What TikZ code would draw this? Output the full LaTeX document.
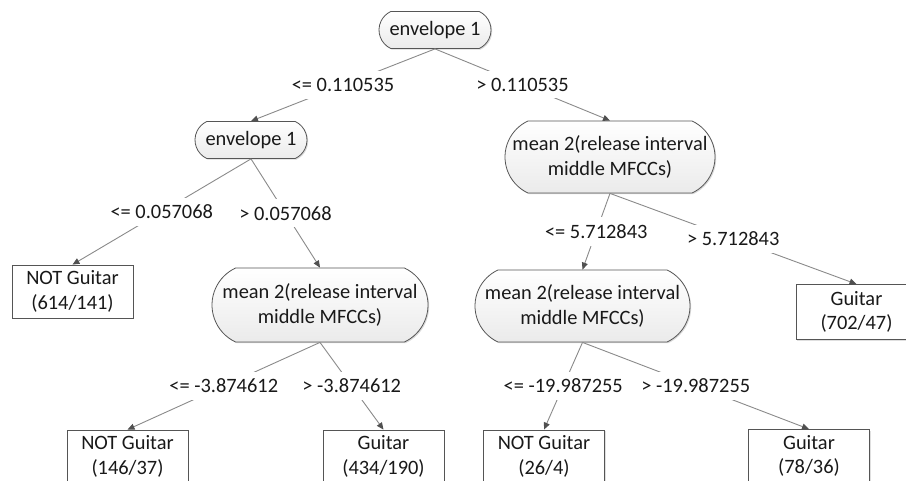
\documentclass[tikz,border=0pt]{standalone}
\usepackage{fontspec}
\setmainfont{Carlito}
\usetikzlibrary{shapes.misc,arrows.meta,shadows}

\definecolor{linegray}{HTML}{8A8A8A}
\definecolor{tipgray}{HTML}{505050}
\definecolor{bordergray}{HTML}{555555}

\begin{document}
\begin{tikzpicture}[x=1pt,y=-1pt,
  every node/.style={font=\fontsize{20.4}{24.5}\selectfont, text=black!90},
  test/.style={rounded rectangle, rounded rectangle arc length=130,
    draw=bordergray, line width=0.8pt, top color=white, bottom color=black!8,
    drop shadow={shadow xshift=1.2pt, shadow yshift=-1.2pt, opacity=0.3},
    inner sep=0pt, align=center},
  leaf/.style={rectangle, draw=bordergray, line width=0.8pt, fill=white,
    drop shadow={shadow xshift=1.2pt, shadow yshift=-1.2pt, opacity=0.25},
    minimum width=121pt, minimum height=53pt, inner sep=0pt, align=center},
  edge/.style={draw=linegray, line width=0.9pt,
    -{Triangle[length=7pt, width=6pt, color=tipgray, fill=tipgray]}},
  cond/.style={fill=white, inner xsep=3pt, inner ysep=7pt}
]
\clip (0,0) rectangle (906,481);

% decision nodes
\node[test, minimum width=112pt, minimum height=37pt] (root) at (435,30) {envelope 1};
\node[test, minimum width=112pt, minimum height=37pt] (envL) at (251,140) {envelope 1};
\node[test, minimum width=210pt, minimum height=72pt] (meanR) at (610,157)
  {\makebox[0pt]{mean 2(release interval}\\\makebox[0pt]{middle MFCCs)}};
\node[test, minimum width=216pt, minimum height=74pt] (meanL) at (320,305)
  {\makebox[0pt]{mean 2(release interval}\\\makebox[0pt]{middle MFCCs)}};
\node[test, minimum width=215pt, minimum height=72pt] (meanM) at (582.5,306)
  {\makebox[0pt]{mean 2(release interval}\\\makebox[0pt]{middle MFCCs)}};

% leaves
\node[leaf] (leafA) at (72.5,291.5) {NOT Guitar\\(614/141)};
\node[leaf, minimum height=55pt] (leafB) at (856.5,312) {Guitar\\(702/47)};
\node[leaf] (leafC) at (127.5,456.5) {NOT Guitar\\(146/37)};
\node[leaf] (leafD) at (383.5,456.5) {Guitar\\(434/190)};
\node[leaf] (leafE) at (544,456.5) {NOT Guitar\\(26/4)};
\node[leaf] (leafF) at (809,456) {Guitar\\(78/36)};

% branches with their split conditions
\draw[edge] (root.south) -- node[cond] (c1) {<= 0.110535} (envL.north);
\draw[edge] (root.south) -- node[cond] (c2) {> 0.110535} (meanR.north);
\draw[edge] (envL.south) -- node[cond] (c3) {<= 0.057068} (leafA.north);
\draw[edge] (envL.south) -- node[cond] (c4) {> 0.057068} (meanL.north);
\draw[edge] (meanR.south) -- node[cond] (c5) {<= 5.712843} (meanM.north);
\draw[edge] (meanR.south) -- node[cond] (c6) {> 5.712843} (leafB.north);
\draw[edge] (meanL.south) -- node[cond] (c7) {<= -3.874612} (leafC.north);
\draw[edge] (meanL.south) -- node[cond] (c8) {> -3.874612} (leafD.north);
\draw[edge] (meanM.south) -- node[cond] (c9) {<= -19.987255} (leafE.north);
\draw[edge] (meanM.south) -- node[cond] (c10) {> -19.987255} (leafF.north);
\end{tikzpicture}
\end{document}
